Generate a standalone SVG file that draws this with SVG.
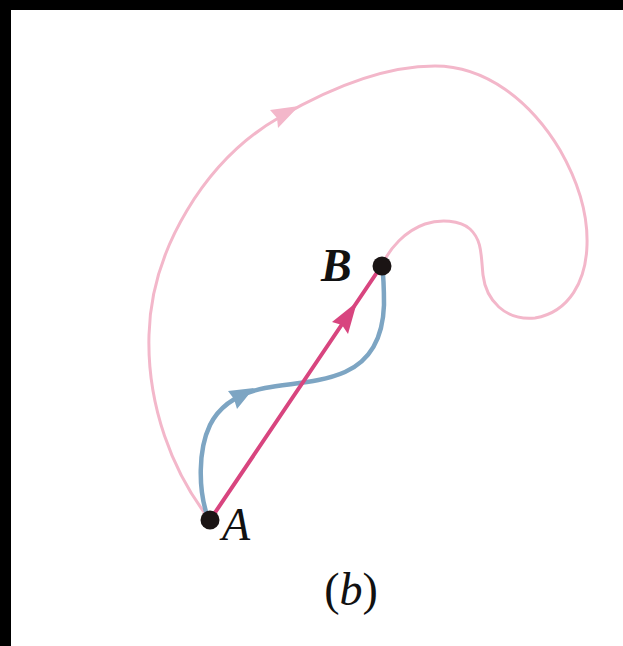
<svg xmlns="http://www.w3.org/2000/svg" width="623" height="646" viewBox="0 0 623 646">
<style>
.lp{fill:none;stroke:#f3b7ca;stroke-width:3;stroke-linecap:round}
.dp{fill:none;stroke:#d8457f;stroke-width:4;stroke-linecap:round}
.bl{fill:none;stroke:#7da5c3;stroke-width:4.5;stroke-linecap:round}
.lbl{font-family:"Liberation Serif",serif;font-style:italic;font-size:46px;fill:#111}
.dot{fill:#1a1414}
</style>
<rect x="0" y="0" width="623" height="646" fill="#000"/>
<rect x="11" y="10" width="612" height="636" fill="#fff"/>
<g id="connectors">
<path class="lp" d="M210,520 C172,472 147,405 149,335 C151,250 205,160 280,117 C330,88 385,66 435,66 C485,66 530,100 560,150 C580,185 588,215 587,245 C586,280 570,312 535,318 C505,321 486,300 483,275 C481,255 482,240 470,229 C460,220 440,219 425,224 C405,231 390,248 382,265"/>
<path d="M299,106 L270,110 L277,118 L278,128 Z" fill="#f3b7ca"/>
<path class="bl" d="M208,518 C198,490 198,450 210,425 C220,405 240,393 265,388 C290,383 320,383 345,372 C372,360 383,335 384,305 C384,285 383,272 382,265"/>
<path d="M254,388 L228,391 L234,399 L237,409 Z" fill="#7da5c3"/>
<path class="dp" d="M210,520 L382,265"/>
<path d="M357,302 L332,322 L342,325 L348,334 Z" fill="#d8457f"/>
</g>
<g id="node-A">
<circle class="dot" cx="210" cy="520" r="9.5"/>
<text class="lbl" x="222" y="540">A</text>
</g>
<g id="node-B">
<circle class="dot" cx="382" cy="266" r="9.5"/>
<text class="lbl" x="321" y="281" font-weight="bold">B</text>
</g>
<g id="caption">
<text x="351" y="605" text-anchor="middle" font-family="Liberation Serif, serif" font-size="46" fill="#111">(<tspan font-style="italic">b</tspan>)</text>
</g>
</svg>
